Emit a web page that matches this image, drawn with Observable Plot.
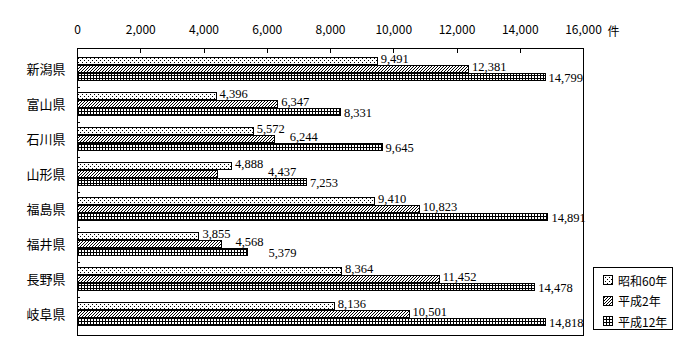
<!DOCTYPE html>
<html><head><meta charset="utf-8">
<script src="https://cdn.jsdelivr.net/npm/d3@7"></script>
<script src="https://cdn.jsdelivr.net/npm/@observablehq/plot@0.6"></script>
<style>
body{margin:0;background:#fff;}
#wrap{position:relative;width:700px;height:360px;}
#legend{position:absolute;left:593px;top:267px;width:80px;height:63px;border:1px solid #000;background:#fff;
 font-family:"Noto Sans CJK JP","Noto Sans",sans-serif;font-size:12px;color:#000;box-sizing:border-box;padding-top:2px;}
#legend .row{display:flex;align-items:center;height:20.5px;padding-left:9px;}
#legend svg{margin-right:5px;}
</style></head><body><div id="wrap"></div>
<script>
const prefectures = ["新潟県","富山県","石川県","山形県","福島県","福井県","長野県","岐阜県"];
const seriesNames = ["昭和60年","平成2年","平成12年"];
const showa60 = [9491,4396,5572,4888,9410,3855,8364,8136];
const heisei2 = [12381,6347,6244,4437,10823,4568,11452,10501];
const heisei12 = [14799,8331,9645,7253,14891,5379,14478,14818];
const xTicks = [0,2000,4000,6000,8000,10000,12000,14000,16000];
const unitLabel = "件";

const seriesValues = [showa60, heisei2, heisei12];
const patternIds = ["pDots","pHatch","pGrid"];
const W = 700, H = 360, mT = 48, mB = 25, mL = 77, mR = 117;
const step = (H - mT - mB) / prefectures.length;
const gapTop = 5, barH = 8;
const labelShift = [-2, -2, 1];
const fmt = d3.format(",");
const font = '"Noto Sans CJK JP","Noto Sans",sans-serif';

// label placement: push a label right when it would collide with the previous label in its group
const xPx = d3.scaleLinear().domain([0, 16000]).range([mL, W - mR]);
const charW = 6.2, labelGap = 3;
const labelX = seriesValues.map(() => []);
prefectures.forEach((p, i) => {
  let prevEnd = -Infinity;
  seriesValues.forEach((vals, s) => {
    const start = Math.max(xPx(vals[i]) + labelGap, prevEnd + 2);
    labelX[s][i] = xPx.invert(start - labelGap);
    prevEnd = start + fmt(vals[i]).length * charW;
  });
});

const marks = [];
seriesValues.forEach((vals, s) => {
  marks.push(Plot.barX(prefectures, {
    x1: 0, x2: (d, i) => vals[i], y: d => d,
    fill: `url(#${patternIds[s]})`, stroke: "black", strokeWidth: 1,
    insetTop: gapTop + barH * s, insetBottom: step - gapTop - barH * (s + 1),
    shapeRendering: "crispEdges"
  }));
});
seriesValues.forEach((vals, s) => {
  marks.push(Plot.text(prefectures, {
    x: (d, i) => labelX[s][i], y: d => d, text: (d, i) => fmt(vals[i]),
    textAnchor: "start", dx: labelGap,
    dy: gapTop + barH * s + barH / 2 - step / 2 + labelShift[s],
    fontFamily: '"Liberation Serif",serif', fontSize: 12.5, fill: "black"
  }));
});
marks.push(Plot.ruleY(prefectures.slice(1), {y: d => d, x1: 0, x2: 100, dy: -step / 2, stroke: "black", shapeRendering: "crispEdges"}));
marks.push(Plot.frame({stroke: "black", shapeRendering: "crispEdges"}));
marks.push(Plot.axisX(xTicks, {anchor: "top", tickSize: -4, tickPadding: 19, tickFormat: fmt, fontSize: 12, shapeRendering: "crispEdges"}));
marks.push(Plot.axisY({anchor: "left", tickSize: 0, tickPadding: 12, fontSize: 13}));
marks.push(Plot.text([unitLabel], {frameAnchor: "top-right", textAnchor: "start", dx: 24, dy: -21, fontSize: 12, fill: "black"}));

const svg = Plot.plot({
  width: W, height: H,
  marginTop: mT, marginBottom: mB, marginLeft: mL, marginRight: mR,
  style: {fontFamily: font, fontSize: "12px", color: "black", background: "white"},
  x: {domain: [0, 16000], axis: null},
  y: {domain: prefectures, padding: 0, axis: null},
  marks
});

const ns = "http://www.w3.org/2000/svg";
const defs = document.createElementNS(ns, "defs");
defs.innerHTML = `
<pattern id="pDots" patternUnits="userSpaceOnUse" width="4" height="4">
  <rect width="4" height="4" fill="white"/><rect x="0" y="0" width="1" height="1" fill="black"/><rect x="2" y="2" width="1" height="1" fill="black"/>
</pattern>
<pattern id="pHatch" patternUnits="userSpaceOnUse" width="3" height="3">
  <rect width="3" height="3" fill="white"/><path d="M0,3L3,0M-1,1L1,-1M2,4L4,2" stroke="black" stroke-width="1"/>
</pattern>
<pattern id="pGrid" patternUnits="userSpaceOnUse" width="3" height="3">
  <rect width="3" height="3" fill="white"/><rect x="0" y="0" width="3" height="1" fill="black"/><rect x="0" y="0" width="1" height="3" fill="black"/>
</pattern>`;
svg.insertBefore(defs, svg.firstChild);

const wrap = document.getElementById("wrap");
wrap.appendChild(svg);

const legend = document.createElement("div");
legend.id = "legend";
seriesNames.forEach((name, s) => {
  const row = document.createElement("div");
  row.className = "row";
  row.innerHTML = `<svg width="10" height="10"><rect x="0.5" y="0.5" width="9" height="9" fill="url(#${patternIds[s]})" stroke="black" shape-rendering="crispEdges"/></svg><span>${name}</span>`;
  legend.appendChild(row);
});
wrap.appendChild(legend);
</script></body></html>
